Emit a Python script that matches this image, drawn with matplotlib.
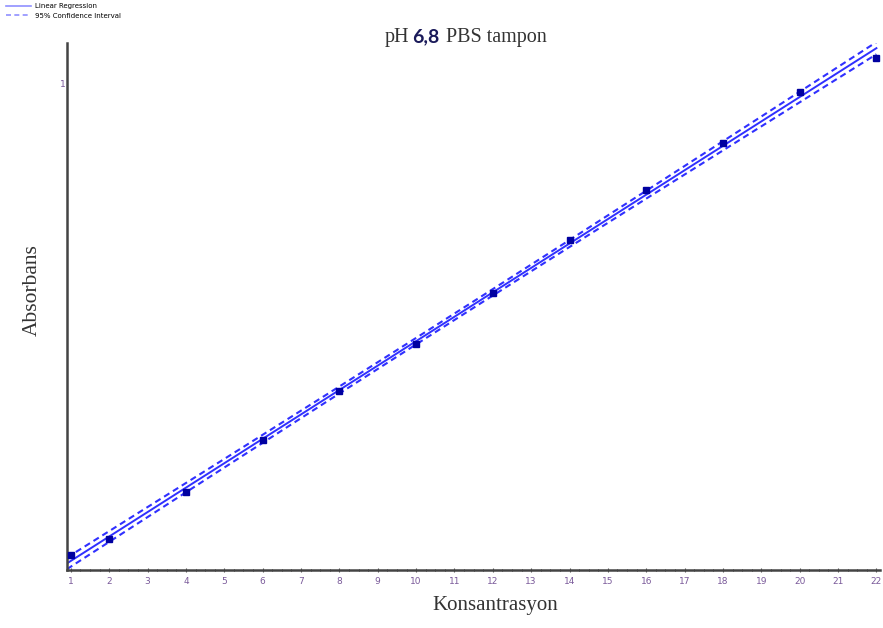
import matplotlib.pyplot as plt
import numpy as np

# Absorbance readings for the pH 6,8 PBS buffer series
konsantrasyon = [1, 2, 4, 6, 8, 10, 12, 14, 16, 18, 20, 22]
absorbans = [0.031, 0.064, 0.160, 0.267, 0.368, 0.465, 0.570, 0.679, 0.782, 0.879, 0.984, 1.053]
x_ticks = list(range(1, 23))
y_ticks = [1]

x = np.array(konsantrasyon, dtype=float)
y = np.array(absorbans)

# Least squares fit and 95% confidence band for the mean response
n = len(x)
slope, intercept = np.polyfit(x, y, 1)
resid = y - (slope * x + intercept)
s = np.sqrt(np.sum(resid ** 2) / (n - 2))
t_val = 2.228  # t(0.975, df=10)
xs = np.linspace(0.9, 22.0, 200)
fit = slope * xs + intercept
se = s * np.sqrt(1 / n + (xs - x.mean()) ** 2 / np.sum((x - x.mean()) ** 2))
ci = t_val * se

fig = plt.figure(figsize=(8.83, 6.28), dpi=100)
ax = fig.add_axes([0.0759, 0.0924, 0.921, 0.839])

line_reg, = ax.plot(xs, fit, color='#3030ff', lw=1.4, label='Linear Regression')
line_ci, = ax.plot(xs, fit + ci, color='#3030ff', lw=1.5, ls=(0, (3, 2)), label='95% Confidence Interval')
ax.plot(xs, fit - ci, color='#3030ff', lw=1.5, ls=(0, (3, 2)))
ax.plot(x, y, 's', color='#0000a0', ms=4, zorder=5)

ax.set_xlim(0.9, 22.1)
ax.set_ylim(0, 1.084)
ax.set_xticks(x_ticks)
ax.set_xticks(np.arange(1, 22.01, 0.25), minor=True)
ax.set_yticks(y_ticks)
ax.tick_params(axis='both', labelsize=6.5, labelcolor='#7a5a9a', color='#555555')
ax.tick_params(axis='x', which='major', length=3, direction='inout')
ax.tick_params(axis='x', which='minor', length=2, direction='inout')
ax.tick_params(axis='y', length=0, pad=1)

for side in ['top', 'right']:
    ax.spines[side].set_visible(False)
for side in ['left', 'bottom']:
    ax.spines[side].set_linewidth(1.8)
    ax.spines[side].set_color('#444444')

ax.set_xlabel('Konsantrasyon', fontsize=15, family='Liberation Serif', color='#333333')
ax.set_ylabel('Absorbans', fontsize=15.5, family='Liberation Serif', color='#333333')
ax.xaxis.set_label_coords(0.526, -0.049)
ax.yaxis.set_label_coords(-0.031, 0.531)

# Title in three pieces: serif text around a bold sans number
fig.text(0.463, 0.941, 'pH', fontsize=14.5, family='Liberation Serif', color='#333333', ha='right', va='center')
fig.text(0.467, 0.941, '6,8', fontsize=14, family='Lato', weight='bold', color='#1a1a5a', ha='left', va='center')
fig.text(0.505, 0.941, 'PBS tampon', fontsize=14.5, family='Liberation Serif', color='#333333', ha='left', va='center')

fig.legend(handles=[line_reg, line_ci], loc='upper left', bbox_to_anchor=(0.0, 1.005),
           frameon=False, fontsize=5, handlelength=3.6, labelspacing=0.5, handletextpad=0.5)
for h in fig.legends[0].get_lines():
    h.set_color('#9090ff')
    h.set_linewidth(1.2)

fig.savefig('out.png', dpi=100)
